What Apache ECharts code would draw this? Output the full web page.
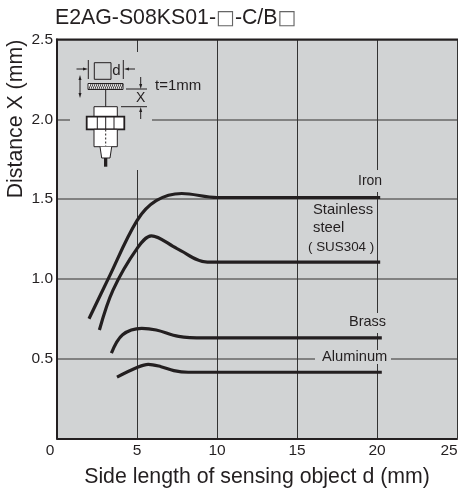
<!DOCTYPE html>
<html><head><meta charset="utf-8">
<style>html,body{margin:0;padding:0;background:#fff}#c{width:459px;height:493px}</style>
<script src="https://cdn.jsdelivr.net/npm/echarts@6/dist/echarts.min.js"></script></head>
<body><div id="c"></div>
<script>
const xTicks = [0, 5, 10, 15, 20, 25];
const yTicks = [0, 0.5, 1.0, 1.5, 2.0, 2.5];
const titleText = "E2AG-S08KS01-{s|\u25A1}-C/B{s|\u25A1}";
const xName = "Side length of sensing object d (mm)";
const yName = "Distance X (mm)";
const iron = [[2.0,0.75],[3.2,1.0],[5,1.365],[6.2,1.49],[7.8,1.535],[10,1.51],[13,1.51],[20.2,1.51]];
const stainless = [[2.65,0.68],[3.5,0.93],[5,1.19],[5.9,1.27],[7.5,1.19],[9.4,1.105],[12,1.105],[20.2,1.105]];
const brass = [[3.4,0.535],[4.1,0.65],[5.3,0.69],[6.2,0.68],[7.6,0.64],[9.2,0.63],[12,0.63],[20.3,0.63]];
const aluminum = [[3.75,0.385],[5,0.445],[5.7,0.465],[6.5,0.45],[7.3,0.425],[8.2,0.415],[10,0.415],[20.3,0.415]];

const INK = "#231f20", PLOT = "#d1d3d4", FONT = "Liberation Sans";
const chart = echarts.init(document.getElementById("c"), null, {renderer:"canvas"});

function line(x1,y1,x2,y2,w,c){return {type:"line",z:6,shape:{x1,y1,x2,y2},style:{stroke:c||INK,lineWidth:w||1}};}
function rect(x,y,width,height,w,fill){return {type:"rect",z:6,shape:{x,y,width,height},style:{stroke:INK,lineWidth:w||1,fill:fill||"#fff"}};}
function tri(p){return {type:"polygon",z:6,shape:{points:p},style:{fill:INK}};}
function txt(t,x,y,size,extra){return {type:"text",z:7,x,y,style:Object.assign({text:t,font:size+"px "+FONT,fill:INK,textVerticalAlign:"middle"},extra||{})};}
function gap(x,y,width,height){return {type:"rect",z:1,shape:{x,y,width,height},style:{fill:PLOT}};}

const hatch = [];
for (let x = 89; x < 122; x += 2) hatch.push(line(x,89,x+2,84,0.9));

const graphics = [
  gap(136,52,3,118), gap(70,117,82,4),
  gap(376,170,4,22), gap(376,313,4,20), gap(315,350,76,14),
  line(56,39.5,458,39.5,2),
  line(88.3,60,88.3,79,1), line(123.3,60,123.3,79,1),
  line(76.5,69,84,69,1), tri([[88,69],[83,67.5],[83,70.5]]),
  line(128,69,135,69,1), tri([[124,69],[129,67.5],[129,70.5]]),
  rect(94.3,62.7,16.7,16.6,1,"none"), txt("d",112.3,71,15),
  {type:"rect",z:6,shape:{x:88,y:83.5,width:35,height:6},style:{fill:"#fff",stroke:INK,lineWidth:1}},
  ...hatch,
  line(80,79,80,94,1), tri([[80,75],[78.5,80],[81.5,80]]), tri([[80,98],[78.5,93],[81.5,93]]),
  line(126,89,147,89,1), line(121,106.7,147,106.7,1),
  line(140.7,77,140.7,86,1), tri([[140.7,89],[139.2,84],[142.2,84]]),
  line(140.7,111,140.7,119,1), tri([[140.7,107],[139.2,112],[142.2,112]]),
  txt("X",136,98.5,14), txt("t=1mm",155,86,15),
  line(105.7,90,105.7,107,1),
  rect(94,106.7,23.3,10,1), rect(86.7,116.7,37.6,12.6,1.8), line(97.3,116.7,97.3,129.3,1), line(114,116.7,114,129.3,1), line(105.7,116.7,105.7,129.3,1),
  rect(94,129.3,23.3,17.4,1),
  {type:"line",z:6,shape:{x1:105.7,y1:129.5,x2:105.7,y2:146},style:{stroke:INK,lineWidth:1,lineDash:[2,2]}},
  {type:"polyline",z:6,shape:{points:[[100,146.7],[101.7,158],[110,158],[111.7,146.7]]},style:{stroke:INK,lineWidth:1,fill:"#fff"}},
  {type:"rect",z:6,shape:{x:104,y:158,width:3.3,height:8.7},style:{fill:INK}},
  txt("Iron",358,181,14), txt("Stainless",313,210,14.8), txt("steel",313,228,14.8),
  txt("( SUS304 )",308,247,13.4), txt("Brass",349,322,14.5), txt("Aluminum",322,357,14.7)
];

function lineSeries(name,data){
  return {name,type:"line",data,symbol:"none",smooth:0.35,lineStyle:{color:INK,width:3.2,cap:"butt"},silent:true,z:3};
}

chart.setOption({
  animation:false,
  backgroundColor:"#fff",
  title:{text:titleText,left:50,top:3,textStyle:{fontFamily:FONT,fontSize:21.3,fontWeight:"normal",color:INK,
    rich:{s:{fontFamily:"DejaVu Sans",fontSize:20,color:"#666"}}}},
  grid:{left:57,top:39.5,right:2,bottom:54.5,show:true,backgroundColor:PLOT,borderWidth:0,outerBoundsMode:"none"},
  xAxis:{type:"value",min:xTicks[0],max:xTicks[xTicks.length-1],interval:5,
    name:xName,nameLocation:"middle",nameGap:28,nameMoveOverlap:false,
    nameTextStyle:{fontFamily:FONT,fontSize:21.3,color:INK},
    axisLine:{show:true,lineStyle:{color:INK,width:2}},axisTick:{show:false},
    axisLabel:{margin:4,fontFamily:FONT,fontSize:15.5,color:INK,
      formatter:v=>v===0?"{z|0}":v===25?"{m|25}":String(v),
      rich:{z:{padding:[0,14,0,0],fontFamily:FONT,fontSize:15.5,color:INK},
            m:{padding:[0,16,0,0],fontFamily:FONT,fontSize:15.5,color:INK}}},
    splitLine:{show:true,lineStyle:{color:"#333",width:1}}},
  yAxis:{type:"value",min:yTicks[0],max:yTicks[yTicks.length-1],interval:0.5,
    name:yName,nameLocation:"middle",nameGap:30,nameMoveOverlap:false,
    nameTextStyle:{fontFamily:FONT,fontSize:21.3,color:INK,padding:[0,0,0,240]},
    axisLine:{show:true,lineStyle:{color:INK,width:2}},axisTick:{show:false},
    axisLabel:{margin:4,fontFamily:FONT,fontSize:15.5,color:INK,padding:[5,0,0,0],
      formatter:v=>v===0?"":v.toFixed(1)},
    splitLine:{show:true,lineStyle:{color:"#666",width:1.5}}},
  series:[lineSeries("Iron",iron),lineSeries("Stainless steel (SUS304)",stainless),lineSeries("Brass",brass),lineSeries("Aluminum",aluminum)],
  graphic:graphics
});
</script></body></html>
